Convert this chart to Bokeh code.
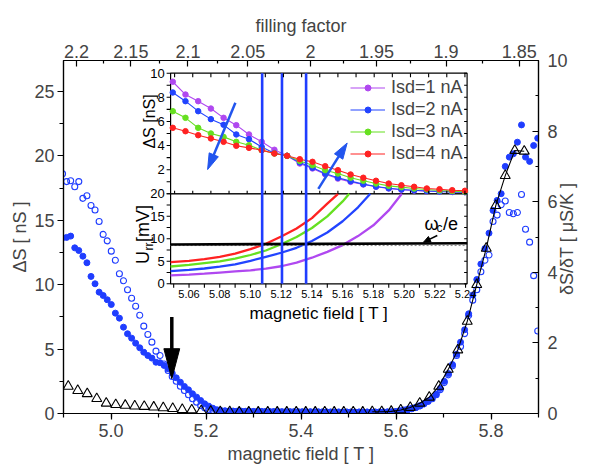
import math
from bokeh.plotting import figure
from bokeh.models import (Range1d, LinearAxis, FixedTicker, SingleIntervalTicker,
                          PrintfTickFormatter, Legend, LegendItem)
from bokeh.core.properties import value
from bokeh.embed import file_html
from bokeh.resources import INLINE

# ------------------------------------------------------------------ data
field_T = [4.8980, 4.9066, 4.9151, 4.9237, 4.9322, 4.9408, 4.9493, 4.9579, 4.9664, 4.9750,
           4.9835, 4.9921, 5.0006, 5.0092, 5.0177, 5.0263, 5.0348, 5.0434, 5.0519, 5.0605,
           5.0690, 5.0776, 5.0861, 5.0947, 5.1032, 5.1118, 5.1203, 5.1289, 5.1374, 5.1460,
           5.1545, 5.1631, 5.1716, 5.1802, 5.1887, 5.1973, 5.2058, 5.2144, 5.2229, 5.2315,
           5.2400, 5.2486, 5.2571, 5.2657, 5.2742, 5.2828, 5.2913, 5.2999, 5.3084, 5.3170,
           5.3255, 5.3341, 5.3426, 5.3512, 5.3597, 5.3683, 5.3768, 5.3854, 5.3939, 5.4025,
           5.4110, 5.4196, 5.4281, 5.4367, 5.4452, 5.4538, 5.4623, 5.4709, 5.4794, 5.4880,
           5.4965, 5.5051, 5.5136, 5.5222, 5.5307, 5.5393, 5.5478, 5.5564, 5.5649, 5.5735,
           5.5820, 5.5906, 5.5991, 5.6077, 5.6162, 5.6248, 5.6333, 5.6419, 5.6504, 5.6590,
           5.6675, 5.6761, 5.6846, 5.6932, 5.7017, 5.7103, 5.7188, 5.7274, 5.7359, 5.7445,
           5.7530, 5.7616, 5.7701, 5.7787, 5.7872, 5.7958, 5.8043, 5.8129, 5.8214, 5.8300,
           5.8385, 5.8471, 5.8556, 5.8642, 5.8727, 5.8813, 5.8898, 5.8984]

dS_open_nS = [18.6, 18.0, 18.07, 17.6, 18.0, 16.7, 16.9, 16.15, 15.8, 14.9,
              13.9, 13.4, 12.6, 11.9, 10.85, 10.3, 9.6, 8.95, 8.33, 7.63,
              6.78, 6.13, 5.54, 4.84, 4.5, 3.84, 3.34, 2.87, 2.5, 2.12,
              1.79, 1.45, 1.14, 0.88, 0.62, 0.44, 0.32, 0.25, 0.2,
              0.18, 0.17, 0.16, 0.16, 0.15, 0.15, 0.14, 0.14, 0.14, 0.13,
              0.13, 0.13, 0.12, 0.12, 0.12, 0.12, 0.12, 0.11, 0.11, 0.11,
              0.11, 0.11, 0.11, 0.11, 0.10, 0.10, 0.10, 0.10, 0.10, 0.10,
              0.10, 0.10, 0.10, 0.10, 0.10, 0.10, 0.10, 0.10, 0.10, 0.10,
              0.10, 0.10,
              0.1, 0.14, 0.2, 0.26, 0.33, 0.4, 0.48, 0.6, 0.75, 0.95,
              1.15, 1.45, 1.85, 2.4, 3.0, 3.7, 4.5, 5.2, 6.2, 7.6,
              8.8, 9.6, 11.0, 11.9, 12.3, 14.9, 15.4, 16.2, 16.5, 15.6,
              15.5, 15.6, 17.0, 14.3, 13.3, 10.7, 6.4]

dS_filled_nS = [13.64, 13.67, 13.77, 12.86, 12.65, 12.21, 11.7, 10.64, 10.07, 9.42,
                9.16, 8.83, 8.46, 7.79, 7.4, 6.7, 6.19, 5.85, 5.46, 5.1,
                4.76, 4.5, 4.3, 3.98, 3.94, 3.73, 3.47, 3.13, 2.77, 2.43,
                2.1, 1.84, 1.53, 1.27, 1.01, 0.75, 0.57, 0.41, 0.29, 0.23,
                0.21, 0.20, 0.19, 0.18, 0.18, 0.17, 0.17, 0.16, 0.16, 0.16,
                0.15, 0.15, 0.15, 0.15, 0.14, 0.14, 0.14, 0.14, 0.14, 0.13,
                0.13, 0.13, 0.13, 0.13, 0.13, 0.13, 0.12, 0.12, 0.12, 0.12,
                0.12, 0.12, 0.12, 0.12, 0.12, 0.12, 0.12, 0.12, 0.12, 0.13,
                0.13, 0.14,
                0.15, 0.18, 0.22, 0.28, 0.36, 0.45, 0.58, 0.75, 0.95, 1.2,
                1.5, 1.95, 2.5, 3.1, 3.8, 4.6, 5.54, 6.5, 7.74, 9.2,
                10.4, 11.6, 12.8, 14.0, 15.76, 16.54, 17.06, 19.18, 19.9, 20.16,
                21.06, 22.4, 19.9, 19.57, 20.8, 21.37]

tri_field_T = [4.91, 4.93, 4.95, 4.97, 4.99, 5.01, 5.03, 5.05, 5.07, 5.09,
               5.11, 5.13, 5.15, 5.17, 5.19, 5.21, 5.23, 5.25, 5.27, 5.29,
               5.31, 5.33, 5.35, 5.37, 5.39, 5.41, 5.43, 5.45, 5.47, 5.49,
               5.51, 5.53, 5.55, 5.57, 5.59, 5.61, 5.63, 5.65, 5.67, 5.69,
               5.71, 5.73, 5.75, 5.77, 5.79, 5.81, 5.83, 5.85, 5.87]
tri_dSdT = [0.77, 0.65, 0.56, 0.42, 0.29, 0.25, 0.23, 0.21, 0.20, 0.18,
            0.16, 0.14, 0.11, 0.10, 0.08, 0.06, 0.05, 0.05, 0.04, 0.04,
            0.04, 0.04, 0.04, 0.04, 0.04, 0.04, 0.04, 0.04, 0.04, 0.04,
            0.04, 0.04, 0.05, 0.05, 0.06, 0.10, 0.17, 0.29, 0.46, 0.77,
            1.25, 1.80, 2.61, 3.65, 4.68, 5.89, 6.74, 7.45, 7.43]
tri_line_from = 32   # the solid line joins the triangles from this index on

filling_major = [2.2, 2.15, 2.1, 2.05, 2.0, 1.95, 1.9, 1.85]
filling_minor = [2.175, 2.125, 2.075, 2.025, 1.975, 1.925, 1.875]
filling_labels = ["2.2", "2.15", "2.1", "2.05", "2", "1.95", "1.9", "1.85"]
field_x_filling = 10.84          # B * nu (T)

# inset, upper panel (Delta S vs field for four currents)
inset_upper_field = [5.049, 5.056, 5.063, 5.070, 5.077, 5.084, 5.091, 5.098, 5.105, 5.112,
                     5.119, 5.126, 5.133, 5.140, 5.147, 5.154, 5.161, 5.168, 5.175, 5.182,
                     5.189, 5.196, 5.203, 5.210]
isd_labels = ["Isd=1 nA", "Isd=2 nA", "Isd=3 nA", "Isd=4 nA"]
dS_isd1 = [9.29, 8.23, 7.68, 7.07, 6.30, 5.69, 4.92, 4.31, 3.65, 3.15, 2.51, 2.10,
           1.62, 1.26, 0.99, 0.77, 0.58, 0.44, 0.33, 0.27, 0.22, 0.19, 0.15, 0.13]
dS_isd2 = [8.40, 7.68, 6.85, 6.19, 5.72, 4.92, 4.53, 3.88, 3.37, 3.15, 2.60, 2.16,
           1.68, 1.33, 1.05, 0.80, 0.60, 0.46, 0.36, 0.29, 0.23, 0.19, 0.16, 0.14]
dS_isd3 = [6.85, 6.30, 5.47, 5.00, 4.72, 4.31, 4.03, 3.62, 3.34, 3.15, 2.72, 2.37,
           1.96, 1.68, 1.33, 1.08, 0.85, 0.66, 0.55, 0.44, 0.36, 0.27, 0.22, 0.17]
dS_isd4 = [5.47, 5.19, 4.86, 4.59, 4.31, 3.98, 3.81, 3.62, 3.34, 3.15, 2.87, 2.65,
           2.29, 1.96, 1.60, 1.33, 1.08, 0.85, 0.71, 0.58, 0.44, 0.38, 0.30, 0.25]

# inset, lower panel (U_rr vs field)
urr_field_isd1 = [5.048, 5.06, 5.07, 5.08, 5.09, 5.10, 5.11, 5.12, 5.13, 5.14, 5.15, 5.16,
                  5.17, 5.18, 5.19, 5.1985]
urr_isd1 = [1.85, 2.05, 2.25, 2.5, 2.75, 3.0, 3.35, 3.9, 4.7, 5.8, 7.1, 8.6, 10.6, 13.0, 16.3, 20.0]
urr_field_isd2 = [5.048, 5.06, 5.07, 5.08, 5.09, 5.10, 5.11, 5.12, 5.13, 5.14, 5.15, 5.16,
                  5.17, 5.178]
urr_isd2 = [2.8, 3.1, 3.4, 3.8, 4.3, 5.1, 6.0, 6.9, 8.0, 9.5, 11.4, 13.9, 17.0, 20.0]
urr_field_isd3 = [5.048, 5.06, 5.07, 5.08, 5.09, 5.10, 5.11, 5.12, 5.13, 5.14, 5.15, 5.16, 5.1643]
urr_isd3 = [3.84, 4.2, 4.6, 5.0, 5.6, 6.4, 7.4, 8.8, 10.4, 12.4, 15.0, 18.3, 20.0]
urr_field_isd4 = [5.048, 5.06, 5.07, 5.08, 5.09, 5.10, 5.11, 5.12, 5.13, 5.14, 5.15, 5.157]
urr_isd4 = [4.8, 5.1, 5.5, 6.0, 6.7, 7.7, 8.9, 10.5, 12.3, 14.6, 17.8, 20.0]

omega_field = [5.048, 5.241]
omega_urr = [8.75, 9.0]
omega_ref_urr = [8.5, 8.5]
crossing_field = [5.1076, 5.1205, 5.1362]

# axis limits
main_xlim = (4.9, 5.9)
main_ylim = (0.0, 27.4)
right_ylim = (0.0, 10.0)
upper_xlim = (5.0478, 5.2112)
upper_ylim = (0.0, 10.0)
lower_xlim = (5.048, 5.241)
lower_ylim = (0.0, 20.0)

# arrows (data coordinates of their own panel)
main_arrow = (5.128, 7.5, 5.128, 2.7)
upper_arrow_down = (5.0835, 7.55, 5.0682, 2.01)
upper_arrow_up = (5.1292, 0.41, 5.1451, 4.21)
omega_arrow = (5.2216, 10.73, 5.2126, 9.24)

# ------------------------------------------------------------------ style / layout
FONT = "Liberation Sans"
BLUE = "#1f3dff"
ISD_COLORS = ["#b048f0", "#2244ff", "#66e020", "#ff2222"]
W, H = 589, 469
FL, FR, FT, FB = 63, 542, 60, 413
FW, FH = FR - FL, FB - FT
# inset box, px from frame left / frame bottom
IN_L, IN_R = 108, 407
UP_B, UP_T = 219.7, 340.3
LO_B, LO_T = 129.7, 219.7


def lin_range(p0, p1, v0, v1, size):
    s = (v1 - v0) / (p1 - p0)
    return Range1d(start=v0 - p0 * s, end=v0 + (size - p0) * s), 1.0 / s


p = figure(width=W, height=H, output_backend="svg", toolbar_location=None,
           x_range=Range1d(*main_xlim), y_range=Range1d(*main_ylim),
           min_border_left=FL, min_border_right=W - FR, min_border_top=FT,
           min_border_bottom=H - FB)
p.grid.visible = False
p.outline_line_color = "black"
p.outline_line_width = 1.2
p.background_fill_color = "white"
p.border_fill_color = "white"

kx_main = FW / (main_xlim[1] - main_xlim[0])
ky_main = FH / (main_ylim[1] - main_ylim[0])
ky_right = FH / (right_ylim[1] - right_ylim[0])

itx, kx_up = lin_range(IN_L, IN_R, upper_xlim[0], upper_xlim[1], FW)
ity, ky_up = lin_range(UP_B, UP_T, upper_ylim[0], upper_ylim[1], FH)
ibx, kx_lo = lin_range(IN_L, IN_R, lower_xlim[0], lower_xlim[1], FW)
iby, ky_lo = lin_range(LO_B, LO_T, lower_ylim[0], lower_ylim[1], FH)
right_range = Range1d(*right_ylim)
p.extra_x_ranges = {"ux": itx, "lx": ibx}
p.extra_y_ranges = {"uy": ity, "ly": iby, "right": right_range}


def style_axis(ax, out_major, out_minor, in_major, in_minor, standoff):
    ax.major_label_text_font = FONT
    ax.major_label_text_font_size = "18px"
    ax.axis_label_text_font = FONT
    ax.axis_label_text_font_size = "18px"
    ax.axis_label_text_font_style = "normal"
    ax.axis_line_width = 1.2
    ax.major_tick_line_width = 1.2
    ax.minor_tick_line_width = 1.2
    ax.major_tick_out = out_major
    ax.minor_tick_out = out_minor
    ax.major_tick_in = in_major
    ax.minor_tick_in = in_minor
    ax.major_label_standoff = standoff


xa = p.xaxis[0]
xa.ticker = SingleIntervalTicker(interval=0.2, num_minor_ticks=2)
xa.formatter = PrintfTickFormatter(format="%.1f")
xa.axis_label = "magnetic field [ T ]"
style_axis(xa, 6, 4, 0, 0, 4)
xa.axis_label_standoff = 4

ya = p.yaxis[0]
ya.ticker = SingleIntervalTicker(interval=5, num_minor_ticks=2)
ya.axis_label = "\u0394S [ nS ]"
style_axis(ya, 6, 4, 0, 0, 3)
ya.axis_label_standoff = 1

ra = LinearAxis(y_range_name="right", ticker=SingleIntervalTicker(interval=2, num_minor_ticks=2))
style_axis(ra, 0, 0, 6, 3, 9)
p.add_layout(ra, "right")

# right-hand axis title, reading upwards like the left one: drawn as a single rotated
# tick label on an otherwise invisible axis (starts at the bottom end of the text)
title_start = 0.5 * right_ylim[1] - 58.0 / ky_right
rt = LinearAxis(y_range_name="right", ticker=FixedTicker(ticks=[title_start], minor_ticks=[]),
                major_label_overrides={title_start: "\u03b4S/\u03b4T [ \u03bcS/K ]"},
                major_label_orientation=math.pi / 2)
style_axis(rt, 0, 0, 0, 0, -4)
rt.axis_line_color = None
rt.major_tick_line_color = None
rt.minor_tick_line_color = None
p.add_layout(rt, "right")

top_major = [field_x_filling / n for n in filling_major]
top_minor = [field_x_filling / n for n in filling_minor]
ta = LinearAxis(ticker=FixedTicker(ticks=top_major, minor_ticks=top_minor),
                axis_label="filling factor",
                major_label_overrides={t: lab for t, lab in zip(top_major, filling_labels)})
style_axis(ta, 0, 0, 6, 3, 3)
ta.axis_label_standoff = 6
p.add_layout(ta, "above")

# ------------------------------------------------------------------ main data
p.scatter(field_T, dS_filled_nS, marker="circle", size=6, fill_color=BLUE, line_color=BLUE)
p.scatter(field_T, dS_open_nS, marker="circle", size=6, fill_color=None, line_color=BLUE,
          line_width=1.1)
p.line(tri_field_T[tri_line_from:], tri_dSdT[tri_line_from:], color="black", line_width=1.1,
       y_range_name="right")
p.scatter(tri_field_T, tri_dSdT, marker="triangle", size=10, fill_color=None,
          line_color="black", line_width=1.1, y_range_name="right")


def arrow(x0, y0, x1, y1, kx, ky, head_len, head_w, width, color, xr, yr):
    dx, dy = (x1 - x0) * kx, (y1 - y0) * ky
    L = math.hypot(dx, dy)
    ux, uy = dx / L, dy / L
    bx, by = x1 - head_len * ux / kx, y1 - head_len * uy / ky
    px_, py_ = -uy, ux
    c1 = (bx + 0.5 * head_w * px_ / kx, by + 0.5 * head_w * py_ / ky)
    c2 = (bx - 0.5 * head_w * px_ / kx, by - 0.5 * head_w * py_ / ky)
    sx, sy = x1 - 0.6 * head_len * ux / kx, y1 - 0.6 * head_len * uy / ky
    p.segment(x0=[x0], y0=[y0], x1=[sx], y1=[sy], line_color=color, line_width=width,
              x_range_name=xr, y_range_name=yr)
    p.patch(x=[c1[0], c2[0], x1], y=[c1[1], c2[1], y1], fill_color=color, line_color=color,
            line_width=1, x_range_name=xr, y_range_name=yr)


arrow(*main_arrow, kx_main, ky_main, 30, 16, 3.5, "black", "default", "default")

# ------------------------------------------------------------------ inset frames
p.quad(left=[upper_xlim[0]], right=[upper_xlim[1]], bottom=[upper_ylim[0]], top=[upper_ylim[1]],
       fill_color="white", line_color="black", line_width=1.2, x_range_name="ux", y_range_name="uy")
p.quad(left=[lower_xlim[0]], right=[lower_xlim[1]], bottom=[lower_ylim[0]], top=[lower_ylim[1]],
       fill_color="white", line_color="black", line_width=1.2, x_range_name="lx", y_range_name="ly")

# upper panel data
items = []
for lab, col, ys in zip(isd_labels, ISD_COLORS, [dS_isd1, dS_isd2, dS_isd3, dS_isd4]):
    lr = p.line(inset_upper_field, ys, color=col, line_width=1.1, x_range_name="ux", y_range_name="uy")
    sr = p.scatter(inset_upper_field, ys, marker="circle", size=5.5, fill_color=col, line_color=col,
                   x_range_name="ux", y_range_name="uy")
    items.append(LegendItem(label=lab, renderers=[lr, sr]))

# lower panel curves
for col, xs, ys in zip(ISD_COLORS, [urr_field_isd1, urr_field_isd2, urr_field_isd3, urr_field_isd4],
                       [urr_isd1, urr_isd2, urr_isd3, urr_isd4]):
    p.line(xs, ys, color=col, line_width=2.3, x_range_name="lx", y_range_name="ly")
p.line(omega_field, omega_ref_urr, color="#888888", line_width=1, line_dash="2 2",
       x_range_name="lx", y_range_name="ly")
p.line(omega_field, omega_urr, color="black", line_width=2.6, x_range_name="lx", y_range_name="ly")

# vertical crossing lines through both panels
top_in_lower = lower_ylim[1] + (UP_T - LO_T) / ky_lo
p.segment(x0=crossing_field, y0=[lower_ylim[0]] * 3, x1=crossing_field, y1=[top_in_lower] * 3,
          line_color=BLUE, line_width=2.6, x_range_name="lx", y_range_name="ly")

arrow(*upper_arrow_down, kx_up, ky_up, 16, 10, 2.5, "#2255ee", "ux", "uy")
arrow(*upper_arrow_up, kx_up, ky_up, 16, 10, 2.5, "#2255ee", "ux", "uy")
arrow(*omega_arrow, kx_lo, ky_lo, 7, 6, 1.5, "black", "lx", "ly")

# ------------------------------------------------------------------ inset ticks
def segs(x0, y0, x1, y1, xr, yr):
    p.segment(x0=x0, y0=y0, x1=x1, y1=y1, line_color="black", line_width=1.1,
              x_range_name=xr, y_range_name=yr)


up_y_ticks = list(range(0, 11))
segs([upper_xlim[0] - 4 / kx_up] * 11, up_y_ticks, [upper_xlim[0]] * 11, up_y_ticks, "ux", "uy")
segs([upper_xlim[1] - 3 / kx_up] * 11, up_y_ticks, [upper_xlim[1]] * 11, up_y_ticks, "ux", "uy")
up_x_ticks = [round(5.05 + 0.01 * i, 2) for i in range(17)]
n = len(up_x_ticks)
segs(up_x_ticks, [upper_ylim[1] - 4 / ky_up] * n, up_x_ticks, [upper_ylim[1]] * n, "ux", "uy")
segs(up_x_ticks, [upper_ylim[0]] * n, up_x_ticks, [upper_ylim[0] + 3 / ky_up] * n, "ux", "uy")

lo_y_ticks = [0, 2.5, 5, 7.5, 10, 12.5, 15, 17.5, 20]
m = len(lo_y_ticks)
segs([lower_xlim[0] - 4 / kx_lo] * m, lo_y_ticks, [lower_xlim[0]] * m, lo_y_ticks, "lx", "ly")
segs([lower_xlim[1] - 3 / kx_lo] * m, lo_y_ticks, [lower_xlim[1]] * m, lo_y_ticks, "lx", "ly")
lo_x_ticks = [round(5.05 + 0.01 * i, 2) for i in range(20)]
k = len(lo_x_ticks)
segs(lo_x_ticks, [lower_ylim[0] - 4 / ky_lo] * k, lo_x_ticks, [lower_ylim[0]] * k, "lx", "ly")

# inset tick labels
up_lab = [2, 4, 6, 8, 10]
p.text(x=[upper_xlim[0] - 6 / kx_up] * 5, y=up_lab, text=[str(v) for v in up_lab],
       text_font=value(FONT), text_font_size="13px", text_align="right", text_baseline="middle",
       x_range_name="ux", y_range_name="uy")
lo_lab = [0, 5, 10, 15, 20]
p.text(x=[lower_xlim[0] - 6 / kx_lo] * 5, y=lo_lab, text=[str(v) for v in lo_lab],
       text_font=value(FONT), text_font_size="13px", text_align="right", text_baseline="middle",
       x_range_name="lx", y_range_name="ly")
lo_xlab = [round(5.06 + 0.02 * i, 2) for i in range(10)]
p.text(x=lo_xlab, y=[lower_ylim[0] - 6 / ky_lo] * 10, text=["%.2f" % v for v in lo_xlab],
       text_font=value(FONT), text_font_size="11px", text_align="center", text_baseline="top",
       x_range_name="lx", y_range_name="ly")

# inset axis titles
xmid = 0.5 * (lower_xlim[0] + lower_xlim[1])
p.text(x=[xmid], y=[lower_ylim[0] - 30 / ky_lo], text=["magnetic field [ T ]"],
       text_font=value(FONT), text_font_size="17px", text_align="center", text_baseline="middle",
       x_range_name="lx", y_range_name="ly")
p.text(x=[upper_xlim[0] - 21 / kx_up], y=[6.0], text=["\u0394S [nS]"], angle=math.pi / 2,
       text_font=value(FONT), text_font_size="16px", text_align="center", text_baseline="middle",
       x_range_name="ux", y_range_name="uy")
ux0 = lower_xlim[0] - 28 / kx_lo
p.text(x=[ux0], y=[4.4], text=["U"], angle=math.pi / 2,
       text_font=value(FONT), text_font_size="18px", text_align="left", text_baseline="middle",
       x_range_name="lx", y_range_name="ly")
p.text(x=[ux0 + 6 / kx_lo], y=[4.4 + 13.5 / ky_lo], text=["rr"], angle=math.pi / 2,
       text_font=value(FONT), text_font_size="12px", text_align="left", text_baseline="middle",
       x_range_name="lx", y_range_name="ly")
p.text(x=[ux0], y=[4.4 + 22 / ky_lo], text=["[mV]"], angle=math.pi / 2,
       text_font=value(FONT), text_font_size="18px", text_align="left", text_baseline="middle",
       x_range_name="lx", y_range_name="ly")

# omega_c / e label
wx, wy = 5.2133, 13.4
p.text(x=[wx], y=[wy], text=["\u03c9"], text_font=value(FONT), text_font_size="18px",
       text_align="left", text_baseline="alphabetic", x_range_name="lx", y_range_name="ly")
p.text(x=[wx + 12 / kx_lo], y=[wy - 4 / ky_lo], text=["c"], text_font=value(FONT),
       text_font_size="12px", text_align="left", text_baseline="alphabetic",
       x_range_name="lx", y_range_name="ly")
p.text(x=[wx + 18.5 / kx_lo], y=[wy], text=["/e"], text_font=value(FONT), text_font_size="18px",
       text_align="left", text_baseline="alphabetic", x_range_name="lx", y_range_name="ly")

# legend
legend = Legend(items=items, location=(287, 248.7), orientation="vertical",
                label_text_font=FONT, label_text_font_size="18px",
                glyph_width=35, glyph_height=15, label_height=21, label_standoff=6,
                spacing=1, padding=0, margin=0, border_line_alpha=0, background_fill_alpha=0)
p.add_layout(legend)

open("out.html", "w").write(file_html(p, INLINE))
